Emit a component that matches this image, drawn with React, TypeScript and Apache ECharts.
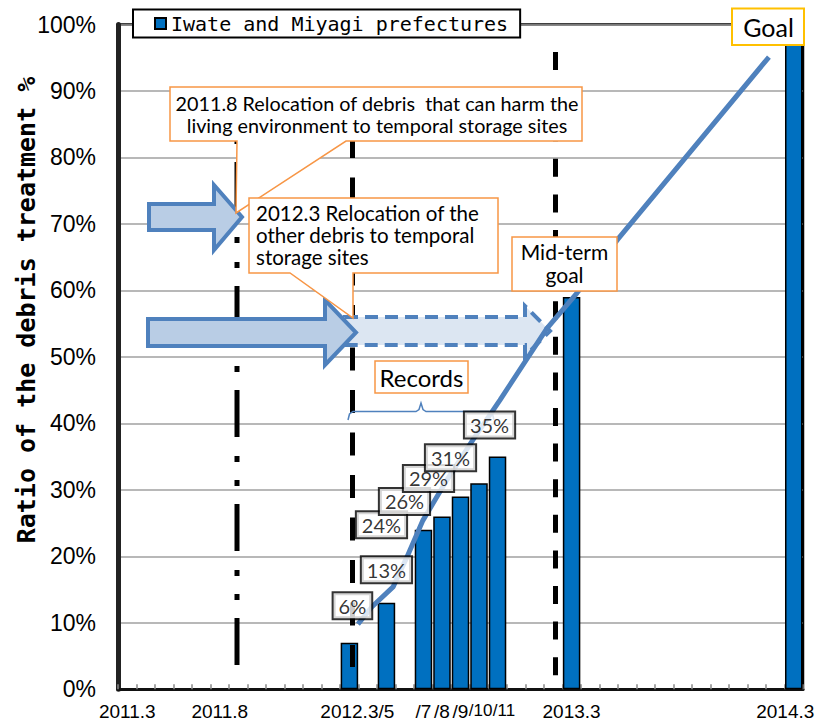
import React, { useEffect, useRef } from "react";
import * as echarts from "echarts";

// ---------- data ----------
const categories = [
  "2011.3", "2011.4", "2011.5", "2011.6", "2011.7", "2011.8", "2011.9", "2011.10", "2011.11", "2011.12",
  "2012.1", "2012.2", "2012.3", "2012.4", "2012.5", "2012.6", "2012.7", "2012.8", "2012.9", "2012.10",
  "2012.11", "2012.12", "2013.1", "2013.2", "2013.3", "2013.4", "2013.5", "2013.6", "2013.7", "2013.8",
  "2013.9", "2013.10", "2013.11", "2013.12", "2014.1", "2014.2", "2014.3",
];
const tickLabels: Record<string, string> = {
  "2011.3": "2011.3",
  "2011.8": "2011.8",
  "2012.3": "2012.3",
  "2012.5": "/5",
  "2012.7": "/7",
  "2012.8": "/8",
  "2012.9": "/9",
  "2012.10": "{r10|/10}",
  "2012.11": "{r11|/11}",
  "2013.3": "2013.3",
  "2014.3": "{r14|2014.3}",
};
const seriesName = "Iwate and Miyagi prefectures";
const barMonths = ["2012.3", "2012.5", "2012.7", "2012.8", "2012.9", "2012.10", "2012.11", "2013.3", "2014.3"];
const barValues = [7, 13, 24, 26, 29, 31, 35, 59, 100];
const recordMonths = ["2012.3", "2012.5", "2012.7", "2012.8", "2012.9", "2012.10", "2012.11"];
const recordLabels = ["6%", "13%", "24%", "26%", "29%", "31%", "35%"];
// trend line: month position (category index) and percent
const trendX = [12.46, 13.22, 14.36, 15.11, 15.97, 17.27, 18.67, 20.13, 22.67, 24.29, 26.5, 34.66];
const trendY = [9.8, 12.4, 15.4, 19.9, 25.4, 31.5, 37.5, 43.5, 54.3, 59.6, 67.7, 95.1];
const yMin = 0;
const yMax = 100;
const yStep = 10;

// ---------- styles / layout ----------
const NARROW = "'Liberation Sans Narrow', 'Liberation Sans', Arial, sans-serif";
const SANS = "Lato, 'Open Sans', sans-serif";
const MONO = "'DejaVu Sans Mono', 'Liberation Mono', monospace";
const BLUE = "#4F81BD";
const ORANGE = "#F79646";
const labelOffsets: [number, number][] = [
  [3, -37], [0, -33], [-42, -5], [-37.5, -15], [-32, -18], [-28.5, -25.5], [-8, -31.5],
];

export default function App() {
  const ref = useRef<HTMLDivElement>(null);
  useEffect(() => {
    if (!ref.current) return;
    const chart = echarts.init(ref.current, undefined, { renderer: "svg" });

    const barData = categories.map((c) => {
      const i = barMonths.indexOf(c);
      return i >= 0 ? barValues[i] : null;
    });
    const labelData = recordMonths.map((m, i) => ({
      value: [categories.indexOf(m), barValues[barMonths.indexOf(m)]],
      label: { offset: labelOffsets[i], formatter: recordLabels[i] },
    }));
    const trendData = trendX.map((x, i) => [x, trendY[i]]);

    const boxText = { fill: "#000", fontFamily: SANS, fontSize: 20 };

    const graphics: any[] = [
      // y axis title
      {
        type: "text", z: 10, x: 26, y: 310, rotation: Math.PI / 2,
        style: { text: "Ratio of the debris treatment %", fontFamily: MONO, fontWeight: "bold", fontSize: 25, fill: "#000", align: "center", verticalAlign: "middle" },
      },
      // vertical milestone lines
      { type: "line", z: 3, shape: { x1: 237, y1: 140, x2: 237, y2: 317 }, style: { stroke: "#000", lineWidth: 5, lineDash: [51, 24, 6, 19, 6, 18], lineDashOffset: 102 } },
      { type: "line", z: 3, shape: { x1: 237, y1: 348, x2: 237, y2: 665 }, style: { stroke: "#000", lineWidth: 5, lineDash: [47, 19, 6, 18, 6, 18], lineDashOffset: 72 } },
      { type: "line", z: 3, shape: { x1: 352.5, y1: 135, x2: 352.5, y2: 667 }, style: { stroke: "#000", lineWidth: 5, lineDash: [23, 19.5] } },
      { type: "line", z: 3, shape: { x1: 555.5, y1: 52, x2: 555.5, y2: 676 }, style: { stroke: "#000", lineWidth: 5, lineDash: [18, 17.6] } },
      // arrows
      {
        type: "polygon", z: 4, z2: 1,
        shape: { points: [[345, 317], [525, 317], [525, 306], [550, 331], [525, 356], [525, 345], [345, 345]] },
        style: { fill: "#DCE6F2", stroke: BLUE, lineWidth: 4, lineDash: [13, 7] },
      },
      {
        type: "polygon", z: 4, z2: 2,
        shape: { points: [[148, 319], [325, 319], [325, 300], [356, 332.5], [325, 365], [325, 346], [148, 346]] },
        style: { fill: "#B9CDE5", stroke: BLUE, lineWidth: 4 },
      },
      {
        type: "polygon", z: 4, z2: 2,
        shape: { points: [[149, 204], [214, 204], [214, 185], [242, 217], [214, 250], [214, 230], [149, 230]] },
        style: { fill: "#B9CDE5", stroke: BLUE, lineWidth: 4 },
      },
      // callout A
      {
        type: "polygon", z: 6, z2: 1,
        shape: { points: [[170, 87], [582, 87], [582, 141], [346, 141], [236, 213], [237, 141], [170, 141]] },
        style: { fill: "#fff", stroke: ORANGE, lineWidth: 1.5 },
      },
      {
        type: "text", z: 6, z2: 2, x: 377, y: 113.5,
        style: { ...boxText, fontSize: 19.8, text: "2011.8 Relocation of debris  that can harm the\nliving environment to temporal storage sites", align: "center", verticalAlign: "middle", lineHeight: 22 },
      },
      // callout B
      {
        type: "polygon", z: 6, z2: 3,
        shape: { points: [[249, 198], [498, 198], [498, 273], [353, 273], [353, 318], [290, 273], [249, 273]] },
        style: { fill: "#fff", stroke: ORANGE, lineWidth: 1.5 },
      },
      {
        type: "text", z: 6, z2: 4, x: 256, y: 235,
        style: { ...boxText, fontSize: 20.5, text: "2012.3 Relocation of the\nother debris to temporal\nstorage sites", align: "left", verticalAlign: "middle", lineHeight: 22 },
      },
      // mid-term goal
      { type: "rect", z: 6, z2: 1, shape: { x: 512, y: 237, width: 105, height: 54 }, style: { fill: "#fff", stroke: ORANGE, lineWidth: 1.5 } },
      {
        type: "text", z: 6, z2: 2, x: 564.5, y: 263,
        style: { ...boxText, fontSize: 21, text: "Mid-term\ngoal", align: "center", verticalAlign: "middle", lineHeight: 23 },
      },
      // goal
      { type: "rect", z: 11, z2: 1, shape: { x: 732, y: 8.5, width: 72, height: 36.5 }, style: { fill: "#fff", stroke: "#FFC000", lineWidth: 2 } },
      {
        type: "text", z: 11, z2: 2, x: 768.5, y: 27,
        style: { ...boxText, fontSize: 25, text: "Goal", align: "center", verticalAlign: "middle" },
      },
      // records
      { type: "rect", z: 6, z2: 1, shape: { x: 375, y: 361, width: 93, height: 32 }, style: { fill: "#fff", stroke: ORANGE, lineWidth: 1.5 } },
      {
        type: "text", z: 6, z2: 2, x: 421.5, y: 377,
        style: { ...boxText, fontSize: 24, text: "Records", align: "center", verticalAlign: "middle" },
      },
      {
        type: "polyline", z: 6,
        shape: { points: [[348, 420], [349.5, 414], [353, 411.5], [416, 411.5], [419, 409.5], [421, 403], [423, 409.5], [426, 411.5], [489, 411.5], [492.5, 414], [494, 420]] },
        style: { stroke: BLUE, lineWidth: 1.5, fill: null },
      },
    ];

    chart.setOption({
      animation: false,
      backgroundColor: "#fff",
      grid: {
        left: 118, top: 24.5, width: 685, height: 664.7, show: true, borderColor: "#000", borderWidth: 2.5,
        backgroundColor: "transparent", containLabel: false, outerBoundsMode: "none",
      },
      legend: {
        data: [seriesName], left: 133, top: 9.5, backgroundColor: "#fff", borderColor: "#000", borderWidth: 2,
        padding: [4, 12, 4, 21], itemWidth: 11, itemHeight: 11, icon: "rect", selectedMode: false, z: 10,
        textStyle: { fontFamily: MONO, fontSize: 20, color: "#000" },
      },
      xAxis: [
        {
          type: "category", data: categories, boundaryGap: true,
          axisLine: { onZero: false, lineStyle: { color: "#111", width: 3 } },
          axisTick: { show: true, inside: true, length: 5, interval: 0, lineStyle: { color: "#888", width: 1.5 } },
          axisLabel: {
            interval: 0, margin: 13, fontFamily: NARROW, fontSize: 19, color: "#000", hideOverlap: false,
            formatter: (v: string) => tickLabels[v] ?? "",
            rich: {
              r10: { fontFamily: NARROW, fontSize: 17, color: "#000", padding: [0, 0, 0, 3] },
              r11: { fontFamily: NARROW, fontSize: 17, color: "#000", padding: [0, 0, 0, 13] },
              r14: { fontFamily: NARROW, fontSize: 19, color: "#000", padding: [0, 17, 0, 0] },
            },
          },
          splitLine: { show: false },
        },
        { type: "value", min: -0.5, max: 36.5, show: false, gridIndex: 0 },
      ],
      yAxis: {
        type: "value", min: yMin, max: yMax, interval: yStep,
        axisLine: { show: true, onZero: false, lineStyle: { color: "#222", width: 5 } },
        axisTick: { show: false },
        axisLabel: { formatter: "{value}%", margin: 22, fontFamily: NARROW, fontSize: 23, color: "#000" },
        splitLine: { lineStyle: { color: "#A0A0A0", width: 1.5 } },
      },
      series: [
        {
          name: seriesName, type: "bar", data: barData, barWidth: 17.5, z: 2,
          itemStyle: { color: "#0070C0", borderColor: "#000", borderWidth: 1.5 },
        },
        {
          type: "line", xAxisIndex: 1, data: trendData, symbol: "none", z: 5, silent: true,
          lineStyle: { color: BLUE, width: 5, cap: "butt" },
        },
        {
          type: "scatter", xAxisIndex: 1, data: labelData, symbolSize: 1, z: 7, silent: true,
          itemStyle: { color: "rgba(0,0,0,0)" },
          label: {
            show: true, position: "inside", fontFamily: SANS, fontSize: 20, color: "#000",
            backgroundColor: "#fff", borderColor: "#000", borderWidth: 2, padding: [3, 5, 2, 5], lineHeight: 20,
          },
        },
      ],
      graphic: { elements: graphics },
    });
    return () => chart.dispose();
  }, []);

  return <div ref={ref} style={{ position: "fixed", left: 0, top: 0, width: 815, height: 723, background: "#fff" }} />;
}
